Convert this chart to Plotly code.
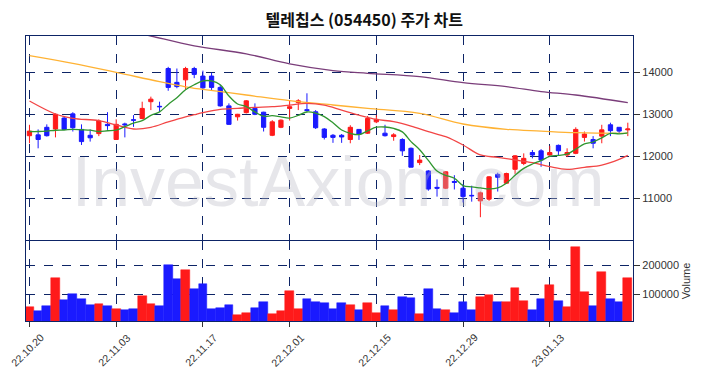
import pandas as pd
import plotly.graph_objects as go

# ---------------- data ----------------
dates = [
    "22.10.20", "22.10.21", "22.10.24", "22.10.25", "22.10.26", "22.10.27", "22.10.28", "22.10.31",
    "22.11.01", "22.11.02", "22.11.03", "22.11.04", "22.11.07", "22.11.08", "22.11.09", "22.11.10",
    "22.11.11", "22.11.14", "22.11.15", "22.11.16", "22.11.17", "22.11.18", "22.11.21", "22.11.22",
    "22.11.23", "22.11.24", "22.11.25", "22.11.28", "22.11.29", "22.11.30",
    "22.12.01", "22.12.02", "22.12.05", "22.12.06", "22.12.07", "22.12.08", "22.12.09", "22.12.12",
    "22.12.13", "22.12.14", "22.12.15", "22.12.16", "22.12.19", "22.12.20", "22.12.21", "22.12.22",
    "22.12.23", "22.12.26", "22.12.27", "22.12.28", "22.12.29",
    "23.01.02", "23.01.03", "23.01.04", "23.01.05", "23.01.06", "23.01.09", "23.01.10", "23.01.11",
    "23.01.12", "23.01.13", "23.01.16", "23.01.17", "23.01.18", "23.01.19", "23.01.20", "23.01.25",
    "23.01.26", "23.01.27", "23.01.30",
]

opens = [12490, 12510, 12690, 12650, 12910, 13010, 12640, 12500, 12540, 12760,
         12400, 12770, 12870, 12900, 13300, 13190, 14090, 13760, 13820, 14090,
         13910, 13910, 13640, 13200, 12940, 13040, 13140, 13050, 12500, 12690,
         13140, 13280, 13110, 13060, 12650, 12500, 12500, 12400, 12640, 12550,
         12820, 12550, 12470, 12400, 12190, 11850, 11650, 11260, 11240, 11400,
         11240, 11070, 10940, 10980, 11570, 11360, 11690, 11830, 12090, 12130,
         12030, 12260, 12030, 12070, 12450, 12400, 12480, 12750, 12690, 12630]
highs = [12750, 12640, 12760, 13020, 12940, 13050, 12760, 12640, 12880, 13050,
         12880, 12800, 12980, 13300, 13420, 13300, 14130, 14090, 14130, 14130,
         14040, 13990, 13700, 13260, 13010, 13340, 13260, 13060, 12860, 12880,
         13320, 13360, 13500, 13100, 12670, 12530, 12530, 12740, 12650, 12960,
         12980, 12750, 12550, 12430, 12210, 12030, 11670, 11450, 11650, 11550,
         11340, 11300, 11160, 11530, 11610, 11610, 12030, 12070, 12150, 12170,
         12250, 12280, 12190, 12690, 12590, 12480, 12750, 12800, 12690, 12800]
lows = [12310, 12190, 12470, 12450, 12630, 12590, 12270, 12350, 12480, 12630,
        12390, 12450, 12700, 12880, 13100, 13060, 13560, 13620, 13590, 13860,
        13580, 13560, 13180, 12750, 12850, 13020, 12980, 12590, 12480, 12670,
        12850, 13100, 13060, 12650, 12400, 12320, 12320, 12310, 12390, 12530,
        12790, 12470, 12370, 12010, 11740, 11790, 11180, 11040, 11220, 11210,
        10900, 10920, 10550, 10940, 11160, 11340, 11580, 11790, 11950, 11750,
        12010, 12030, 11980, 12050, 12350, 12190, 12310, 12480, 12530, 12480]
closes = [12600, 12400, 12490, 13000, 12640, 12680, 12350, 12440, 12840, 12730,
          12760, 12750, 12860, 13140, 13360, 13180, 13640, 13660, 14090, 13950,
          13630, 13640, 13200, 12760, 13000, 13320, 13000, 12690, 12820, 12860,
          13180, 13320, 13090, 12680, 12450, 12450, 12460, 12690, 12530, 12900,
          12880, 12490, 12510, 12130, 11740, 11910, 11220, 11240, 11630, 11380,
          11040, 11060, 11130, 11510, 11500, 11590, 12010, 11950, 12030, 11910,
          12090, 12130, 12090, 12640, 12530, 12310, 12630, 12610, 12600, 12650]
volumes = [55200, 41400, 58600, 155200, 79300, 100000, 82800, 62100, 65500, 58600,
           48300, 44800, 48300, 93100, 65500, 58600, 200000, 151700, 182800, 117200,
           134500, 48300, 51700, 62100, 31000, 37900, 51700, 72400, 34500, 41400,
           110300, 48300, 82800, 72400, 69000, 48300, 69000, 62100, 44800, 69000,
           37900, 58600, 44800, 89700, 86200, 34500, 117200, 48300, 44800, 37900,
           72400, 44800, 89700, 96600, 72400, 72400, 120700, 75900, 44800, 82800,
           131000, 75900, 55200, 262000, 106900, 58600, 175900, 82800, 72400, 155200]

# moving averages (bar index -> value)
ma5_head = [12590, 12590, 12600, 12620]
ma20_idx = [0, 3, 5, 8, 10, 12, 14, 16, 18, 19, 20, 22, 24, 26, 28, 30, 32, 34, 36, 38,
            40, 42, 44, 46, 48, 50, 52, 54, 56, 58, 60, 62, 64, 66, 68, 69]
ma20_val = [13316, 13007, 12904, 12848, 12745, 12650, 12689, 12820, 12940, 12990, 13039, 13118,
            13142, 13166, 13182, 13220, 13260, 13220, 13100, 12980, 12880, 12824, 12721, 12586,
            12467, 12269, 12031, 11975, 11912, 11848, 11753, 11689, 11737, 11792, 11928, 12023]
ma60_idx = [0, 5, 10, 15, 19, 20, 25, 30, 35, 39, 45, 50, 55, 59, 63, 69]
ma60_val = [14396, 14213, 14000, 13777, 13618, 13594, 13459, 13324, 13221, 13142, 13023,
            12769, 12642, 12600, 12562, 12547]
ma120_idx = [0, 5, 10, 14, 19, 25, 30, 35, 39, 45, 50, 55, 59, 63, 69]
ma120_val = [15536, 15296, 15056, 14864, 14630, 14440, 14200, 14040, 13975, 13896, 13753,
             13658, 13540, 13459, 13277]

tick_idx = [0, 10, 20, 30, 40, 50, 60]
title_text = "텔레칩스 (054450) 주가 차트"
watermark = "InvestAxiom.com"

# ---------------- derived ----------------
x = list(range(len(dates)))
ma5 = pd.Series(closes).rolling(5).mean().tolist()
ma5[:4] = ma5_head
vol_colors = ["#ff1a1a" if c >= o else "#1a1aff" for o, c in zip(opens, closes)]

NAVY = "#0d2466"
RED = "#ff1a1a"
BLUE = "#1a1aff"

fig = go.Figure()

# watermark (behind everything)
fig.add_trace(go.Scatter(
    x=[35.6], y=[11230], mode="text", text=[watermark],
    textfont=dict(size=70, color="rgba(185,185,196,0.36)", family="Liberation Sans, Arial"),
    hoverinfo="skip", showlegend=False, xaxis="x", yaxis="y"))

fig.add_trace(go.Scatter(x=ma120_idx, y=ma120_val, mode="lines", line=dict(color="#7a3d7a", width=1.3, shape="spline"),
                         showlegend=False, xaxis="x", yaxis="y"))
fig.add_trace(go.Scatter(x=ma60_idx, y=ma60_val, mode="lines", line=dict(color="#ffb233", width=1.3, shape="spline"),
                         showlegend=False, xaxis="x", yaxis="y"))
fig.add_trace(go.Scatter(x=ma20_idx, y=ma20_val, mode="lines", line=dict(color="#f24545", width=1.3, shape="spline"),
                         showlegend=False, xaxis="x", yaxis="y"))
fig.add_trace(go.Scatter(x=x, y=ma5, mode="lines", line=dict(color="#2f962f", width=1.3, shape="spline"),
                         showlegend=False, xaxis="x", yaxis="y"))

fig.add_trace(go.Candlestick(
    x=x, open=opens, high=highs, low=lows, close=closes,
    increasing=dict(line=dict(color=RED, width=1), fillcolor=RED),
    decreasing=dict(line=dict(color=BLUE, width=1), fillcolor=BLUE),
    whiskerwidth=0, showlegend=False, xaxis="x", yaxis="y"))

fig.add_trace(go.Bar(
    x=x, y=volumes, marker=dict(color=vol_colors, line=dict(color=vol_colors, width=0.5)),
    showlegend=False, xaxis="x2", yaxis="y2"))

axis_common = dict(showline=True, mirror=True, linecolor=NAVY, linewidth=1.2, automargin=False,
                   showgrid=True, gridcolor=NAVY, griddash="dash", gridwidth=1, zeroline=False)

# rotated date labels centred under each tick
date_labels = [
    dict(x=i, xref="x2", y=-0.1018, yref="paper", text=dates[i], showarrow=False,
         textangle=-45, xanchor="center", yanchor="middle", xshift=-2,
         font=dict(family="Liberation Sans, Arial", size=10.5, color="#333333"))
    for i in tick_idx
]

fig.update_layout(
    width=704, height=378,
    margin=dict(l=18, r=79, t=28, b=65, autoexpand=False),
    paper_bgcolor="white", plot_bgcolor="white",
    title=dict(text=title_text, x=0.506, xref="container", xanchor="center", y=0.966, yref="container",
               yanchor="middle", automargin=False,
               font=dict(family="Noto Sans CJK KR", size=16, color="#111111", weight="bold")),
    font=dict(family="Liberation Sans, Arial", size=11, color="#333333"),
    bargap=0.0,
    annotations=date_labels,
    xaxis=dict(domain=[0, 1], anchor="y", range=[-0.4, 69.6], tickvals=tick_idx,
               showticklabels=False, ticks="", rangeslider=dict(visible=False), **axis_common),
    yaxis=dict(domain=[0.2842, 1], anchor="x", side="right", range=[10007, 14864],
               tickvals=[11000, 12000, 13000, 14000], ticktext=["11000", "12000", "13000", "14000"],
               ticks="outside", ticklen=6, tickcolor="#333333", tickfont=dict(size=11, color="#333333"),
               **axis_common),
    xaxis2=dict(domain=[0, 1], anchor="y2", matches="x", range=[-0.4, 69.6], tickvals=tick_idx,
                showticklabels=False, ticks="outside", ticklen=5,
                tickcolor="#333333", **axis_common),
    yaxis2=dict(domain=[0, 0.2807], anchor="x2", side="right", range=[8900, 281900],
                tickvals=[100000, 200000], ticktext=["100000", "200000"],
                ticks="outside", ticklen=6, tickcolor="#333333", tickfont=dict(size=11, color="#333333"),
                title=dict(text="Volume", font=dict(size=11, color="#333333"), standoff=4),
                **axis_common),
)

fig.write_html("out.html")
